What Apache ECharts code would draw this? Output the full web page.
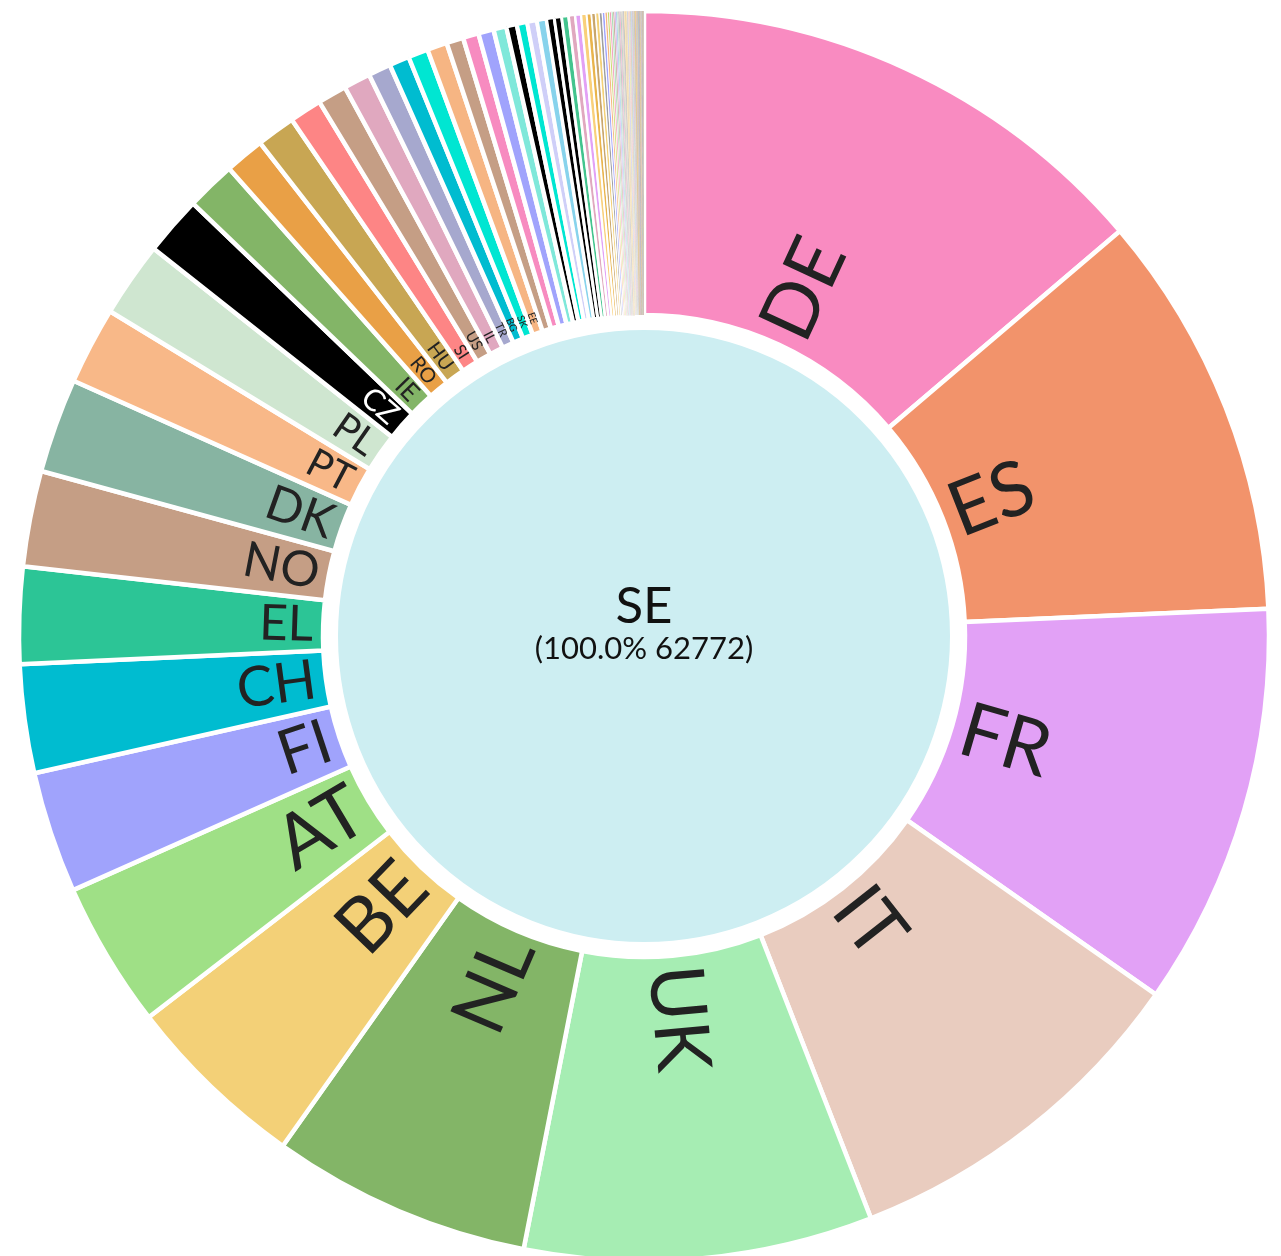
<!DOCTYPE html>
<html>
<head>
<meta charset="utf-8">
<script src="https://cdn.jsdelivr.net/npm/echarts@6/dist/echarts.min.js"></script>
<style>
html,body{margin:0;padding:0;background:#fff;}
#chart{width:1281px;height:1256px;}
</style>
</head>
<body>
<div id="chart"></div>
<script>
const rootName = 'SE';
const rootColor = '#CDEEF2';

const names = ['DE','ES','FR','IT','UK','NL','BE','AT','FI','CH','EL','NO','DK','PT','PL','CZ','IE','RO','HU','SI','US','IL','TR','BG','SK','EE',
  'LT','LU','LV','RS','HR','CY','MT','IS','UA','MK','AL','ME','BA'];
const values = [8649,6609,6539,5876,5650,4220,2982,2371,1970,1761,1569,1552,1534,1255,1221,959,802,645,628,523,471,436,366,326,325,324,
  275,255,249,209,171,170,157,156,126,119,112,105,96];
const colors = ['#F98BC1','#F2936B','#E2A1F6','#E9CCBF','#A6EDB3','#83B567','#F3D077','#9FE086','#A0A3FC','#00BCD0','#2CC596','#C59E85','#87B4A2','#F8B888','#CFE6D0','#000000','#83B567','#E9A046','#C8A653','#FD8585','#C59E85','#E0A8BF','#A6A8CE','#00BCD0','#00E6D2','#F6B583',
  '#C59E85','#F78BC0','#A0A3FC','#7FE8DA','#000000','#00E6D2','#CFCFF8','#87D3EC','#000000','#000000','#43C48E','#E0A8BF','#E2A1F6'];

const tinyNames = ['CN','JP','IN','CA','AU','BR','KR','ZA','MX','AR',
  'CL','CO','PE','EG','MA','TN','DZ','NG','KE','GH',
  'SN','CM','ET','UG','TZ','RU','BY','MD','GE','AM',
  'AZ','KZ','UZ','KG','TJ','TM','MN','SG','MY','TH',
  'VN','ID','PH','TW','HK','NZ','PK','BD','LK','NP',
  'IR','IQ','JO','LB','SA','AE','QA','KW','OM','BH',
  'YE','SY','PS','LI','MC','SM','AD','VA','FO','GL',
  'XK','CU','DO','JM','TT','VE','EC','BO','PY','UY',
  'CR','PA','GT','HN','SV','NI','HT','BS','BB','MU',
  'MG','MZ','ZM'];
const tinyValues = [90,76,66,58,50,44,39,34,30,27,
  24,22,20,19,18,17,16,15,14,13,
  12,12,11,11,10,10,9,9,9,8,
  8,8,7,7,7,7,6,6,6,6,
  5,5,5,5,5,5,5,4,4,4,
  4,4,4,4,4,3,3,3,3,3,
  3,3,3,3,3,3,3,2,2,2,
  2,2,2,2,2,2,2,2,2,2,
  2,2,2,2,2,2,1,1,1,1,
  1,1,1];
const tinyPalette = ['#F9D07A','#E9B44C','#C9A66B','#F3D077','#9E9E9E','#A0A3FC','#F6B583','#C8D86A','#F08BB0','#8FD6A0','#B08A70','#C98BE0','#6FB8D8','#A8C8A8','#888888','#E87BA8','#78A890','#D8B0A0','#A0A0A0','#7A7A7A'];

const allNames = names.concat(tinyNames);
const allValues = values.concat(tinyValues);
const allColors = colors.concat(tinyNames.map((n, i) => tinyPalette[i % tinyPalette.length]));
const total = allValues.reduce((a, b) => a + b, 0);

const children = allNames.map((n, i) => {
  const v = allValues[i];
  const deg = v / total * 360;
  const c = allColors[i];
  return {
    name: n,
    value: v,
    itemStyle: { color: c, borderWidth: v < 6 ? 0 : Math.min(4.5, v / 40) },
    label: {
      fontSize: Math.round(Math.min(76, deg * 5.5) * 10) / 10,
      color: c === '#000000' ? '#ffffff' : '#222222'
    }
  };
});

const chart = echarts.init(document.getElementById('chart'), null, { renderer: 'canvas' });
chart.setOption({
  animation: false,
  textStyle: { fontFamily: 'Lato' },
  series: [{
    type: 'sunburst',
    center: [644, 636],
    radius: [0, 625],
    startAngle: 90,
    sort: 'desc',
    nodeClick: false,
    emphasis: { disabled: true },
    itemStyle: { borderColor: '#ffffff', borderWidth: 4.5 },
    data: [{
      name: rootName,
      itemStyle: { color: rootColor },
      children: children
    }],
    levels: [
      {},
      {
        r0: 0, r: 308,
        itemStyle: { borderWidth: 4, borderColor: '#fff' },
        label: {
          rotate: 0,
          align: 'center',
          color: '#111',
          formatter: function (p) {
            return '{a|' + p.name + '}\n{b|(' + (p.value / total * 100).toFixed(1) + '% ' + p.value + ')}\n{c| }';
          },
          rich: {
            a: { fontSize: 51, fontFamily: 'Lato', color: '#111', lineHeight: 50 },
            b: { fontSize: 31, fontFamily: 'Lato', color: '#111', lineHeight: 34 },
            c: { fontSize: 10, lineHeight: 24 }
          }
        }
      },
      {
        r0: 321, r: 625,
        label: {
          rotate: 'radial',
          align: 'left',
          distance: 10,
          minAngle: 1.7,
          formatter: '{b}',
          fontFamily: 'Lato'
        }
      }
    ]
  }]
});
</script>
</body>
</html>
